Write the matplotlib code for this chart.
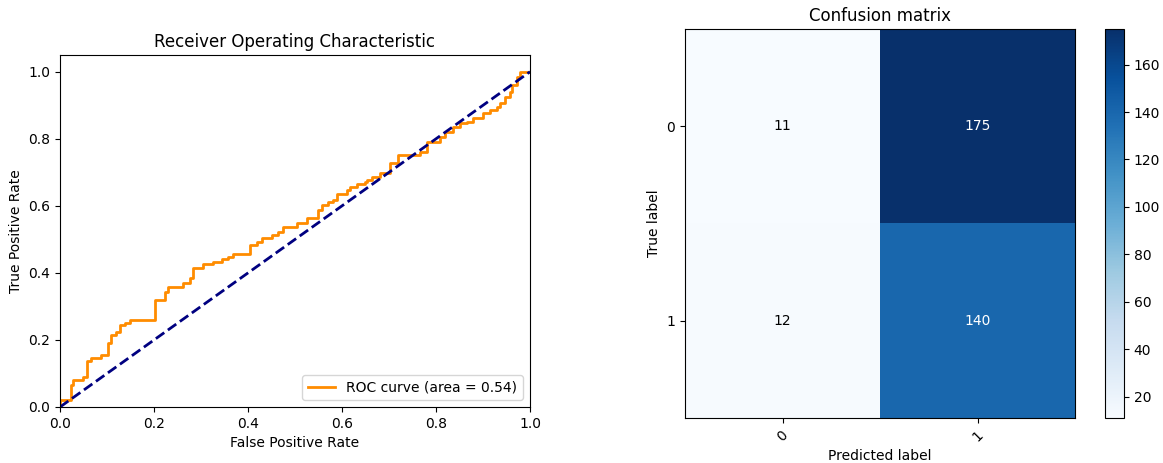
import numpy as np
import matplotlib
matplotlib.use('Agg')
import matplotlib.pyplot as plt

# ROC curve: fpr where tpr steps up, and the new tpr value
roc_fpr = [0.0, 0.0, 0.023, 0.028, 0.049, 0.057, 0.066, 0.087, 0.102, 0.109,
           0.119, 0.127, 0.138, 0.148, 0.202, 0.223, 0.230, 0.262, 0.277, 0.283,
           0.305, 0.326, 0.344, 0.358, 0.369, 0.404, 0.419, 0.430, 0.450, 0.464,
           0.474, 0.504, 0.525, 0.549, 0.557, 0.570, 0.581, 0.590, 0.610, 0.617,
           0.632, 0.649, 0.653, 0.664, 0.681, 0.702, 0.720, 0.766, 0.780, 0.809,
           0.819, 0.836, 0.851, 0.866, 0.879, 0.900, 0.915, 0.930, 0.936, 0.947,
           0.957, 0.962, 0.972, 0.979, 1.0]
roc_tpr = [0.0, 0.021, 0.066, 0.080, 0.090, 0.137, 0.146, 0.155, 0.190, 0.215,
           0.224, 0.245, 0.250, 0.260, 0.320, 0.343, 0.358, 0.370, 0.385, 0.415,
           0.427, 0.433, 0.440, 0.448, 0.457, 0.484, 0.493, 0.504, 0.513, 0.523,
           0.537, 0.549, 0.564, 0.588, 0.603, 0.612, 0.618, 0.636, 0.648, 0.657,
           0.666, 0.672, 0.678, 0.687, 0.698, 0.728, 0.752, 0.761, 0.791, 0.806,
           0.821, 0.836, 0.848, 0.851, 0.863, 0.878, 0.887, 0.896, 0.907, 0.925,
           0.940, 0.961, 0.985, 1.0, 1.0]
roc_auc = 0.54

cm = np.array([[11, 175],
               [12, 140]])
classes = ['0', '1']

fig = plt.figure(figsize=(11.63, 4.63), dpi=100)

# left: ROC
ax1 = fig.add_axes([60/1163, 1-407/463, 470/1163, 352/463])
ax1.plot(roc_fpr, roc_tpr, color='darkorange', lw=2, drawstyle='steps-post',
         label='ROC curve (area = %0.2f)' % roc_auc)
ax1.plot([0, 1], [0, 1], color='navy', lw=2, linestyle='--')
ax1.set_xlim([0.0, 1.0])
ax1.set_ylim([0.0, 1.05])
ax1.set_xlabel('False Positive Rate')
ax1.set_ylabel('True Positive Rate')
ax1.set_title('Receiver Operating Characteristic')
ax1.legend(loc='lower right')

# right: confusion matrix
ax2 = fig.add_axes([685/1163, 1-418/463, 390/1163, 389/463])
im = ax2.imshow(cm, interpolation='nearest', cmap=plt.cm.Blues, aspect='auto')
ax2.set_title('Confusion matrix')
cax = fig.add_axes([1105/1163, 1-418/463, 19/1163, 389/463])
fig.colorbar(im, cax=cax)
ticks = np.arange(len(classes))
ax2.set_xticks(ticks)
ax2.set_xticklabels(classes, rotation=45)
ax2.set_yticks(ticks)
ax2.set_yticklabels(classes)
thresh = cm.max() / 2.
for i in range(cm.shape[0]):
    for j in range(cm.shape[1]):
        ax2.text(j, i, format(cm[i, j], 'd'), ha='center', va='center',
                 color='white' if cm[i, j] > thresh else 'black')
ax2.set_ylabel('True label')
ax2.set_xlabel('Predicted label')

fig.savefig('out.png', dpi=100)
